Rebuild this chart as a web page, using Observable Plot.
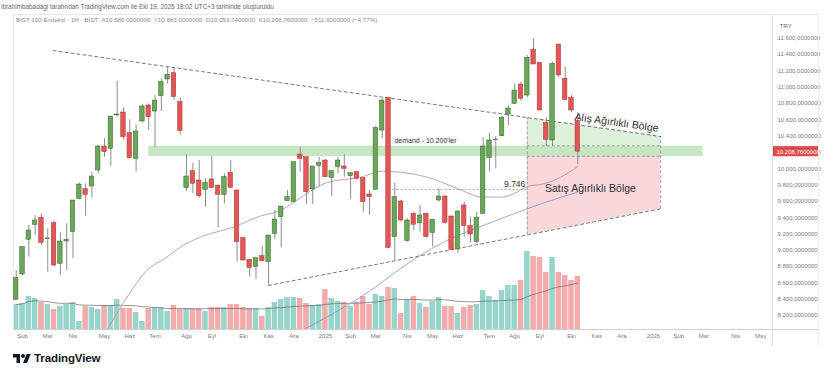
<!DOCTYPE html>
<html><head><meta charset="utf-8">
<script src="https://cdn.jsdelivr.net/npm/d3@7"></script>
<script src="https://cdn.jsdelivr.net/npm/@observablehq/plot@0.6"></script>
<style>
body{margin:0;background:#fff;font-family:"Liberation Sans",Arial,sans-serif;}
#wrap{position:relative;width:836px;height:368px;overflow:hidden;}
.abs{position:absolute;}
#h1{left:1px;top:3px;font-size:6.4px;color:#666;white-space:nowrap;}
#h2{left:16px;top:16px;font-size:6.2px;color:#8a8a8a;white-space:nowrap;z-index:5;}
#chart{left:0;top:14px;width:836px;height:332px;}
#chart svg{position:absolute;left:0;top:0;}
.ln{position:absolute;background:#dcdcdc;}
#logo{left:13px;top:352px;display:flex;align-items:center;gap:3px;}
#logo span{font-size:11.5px;font-weight:bold;color:#131722;letter-spacing:-0.1px;}
</style></head>
<body>
<div id="wrap">
  <div id="h1" class="abs">ibrahimbabadagi tarafından TradingView.com ile Eki 19, 2025 18:02 UTC+3 tarihinde oluşturuldu</div>
  <div id="chart" class="abs"></div>
  <div id="h2" class="abs">BIST 100 Endeksi · 1H · BIST &nbsp;A10.586,0200000 &nbsp;Y10.683,0000000 &nbsp;D10.053,7400000 &nbsp;K10.208,7600000 &nbsp;−511,6000000 (−4,77%)</div>
  <div class="ln" style="left:772px;top:14px;width:1px;height:332px"></div>
  <div class="ln" style="left:818px;top:14px;width:1px;height:332px;background:#ececec"></div>
  <div class="ln" style="left:772px;top:14px;width:46px;height:1px;background:#e4e4e4"></div>
  <div class="ln" style="left:13px;top:329px;width:805px;height:1px;background:#cfcfcf"></div>
  <div id="logo" class="abs">
    <svg width="18" height="9" viewBox="0 4 36 18"><path fill="#131722" d="M14 22H7V11H0V4h14v18zM28 22h-8l7.5-18h8L28 22z"/><circle fill="#131722" cx="20" cy="8" r="4"/></svg>
    <span>TradingView</span>
  </div>
</div>
<script>
// ---------- data (weekly candles, BIST 100) ----------
const firstWeek = "2024-01-29";
const opens = [8392,8703,9128,9312,9397,9135,9332,8834,9107,9222,
  9630,9749,9782,9978,10272,10244,10655,10689,10436,10121,
  10579,10775,10701,10889,11094,11171,10816,9761,9970,9855,
  9741,9868,9790,9680,9949,9733,9148,8883,8793,8928,
  8854,9201,9406,9602,9590,10174,10141,9745,10035,10100,
  9888,10019,10027,9908,9957,9884,9684,9741,10468,10865,
  9160,9598,9112,9447,9332,9447,9210,9610,9659,9414,
  9009,9549,9296,9099,9447,10133,10350,10399,10664,10795,
  11032,10897,11457,11298,10558,10346,11523,11102,10865,10586.02];
const highs = [8752,9040,9304,9426,9447,9263,9357,9214,9324,9610,
  9823,9814,9957,10284,10366,10640,11073,10746,10599,10538,
  10787,10795,10897,11102,11253,11237,10869,10174,10068,10100,
  9876,10150,9806,9937,10100,9741,9160,8883,8903,9046,
  9181,9487,9541,9733,10080,10256,10141,10027,10141,10110,
  9978,10141,10174,9945,9960,9884,9733,10521,10857,10869,
  9823,9610,9385,9467,9549,9455,9373,9753,9663,9414,
  9487,9590,9406,9467,10378,10436,10395,10640,10771,11040,
  11061,11388,11592,11298,10624,11306,11523,11245,10897,10683];
const lows = [8385,8690,8915,9181,9058,8731,8793,8690,8752,8895,
  9618,9418,9643,9937,10141,10027,10632,10354,10121,9957,
  10558,10468,10256,10701,11040,10836,10415,9720,9692,9639,
  9528,9753,9275,9569,9753,8854,8874,8670,8637,8866,
  8568,9128,9026,9602,9590,9957,9561,9561,9773,9896,
  9659,9937,9896,9618,9860,9467,9426,9741,10366,9017,
  8874,9344,9099,9242,9222,9152,9038,9590,9324,8997,
  8964,9160,9091,9079,9447,9957,9998,10395,10530,10787,
  10828,10869,11278,10714,10272,10272,11122,10836,10693,10053.74];
const closes = [8658,9038,9242,9365,9091,9145,8813,9107,9128,9610,
  9806,9680,9904,10272,10203,10640,10664,10387,10129,10456,
  10763,10632,10836,11061,11151,10877,10460,9904,9814,9663,
  9827,9761,9680,9896,9765,9099,8874,8784,8903,8866,
  9181,9377,9536,9651,10080,10121,9712,10027,10068,9896,
  9970,10100,9998,9945,9876,9590,9651,10497,10836,9030,
  9651,9365,9365,9312,9426,9160,9373,9659,9336,9005,
  9475,9296,9193,9397,10272,10346,10358,10624,10738,10959,
  10857,11359,11278,10714,10354,11286,11143,10844,10714,10208.76];
// relative volume
const volumes = [25,26,33,31,27,25,20,23,25,27,8,23,22,20,24,24,30,21,21,17,
  8,21,22,22,18,24,20,21,21,21,18,22,22,22,25,25,22,21,21,13,22,27,
  30,32,32,31,26,24,25,40,31,28,27,23,27,33,25,35,33,42,41,16,
  30,33,26,22,28,32,23,23,16,22,24,25,
  39,33,29,39,44,44,49,78,73,72,57,72,57,54,49,53];

const pinkMADates = ["2024-05-09","2024-05-31","2024-06-22","2024-07-14","2024-07-29","2024-08-20","2024-09-26","2024-10-26","2024-11-17","2024-12-02","2025-01-08","2025-02-14","2025-03-11","2025-03-30","2025-04-29","2025-06-05","2025-06-27","2025-07-19","2025-08-03","2025-08-18","2025-09-05","2025-09-24","2025-10-13"];
const pinkMAValues = [8028,8425,8752,8915,9038,9160,9283,9420,9487,9590,9830,9896,9970,9957,9896,9741,9655,9651,9692,9782,9814,9896,10027];
const blueMADates = ["2024-12-13","2025-02-14","2025-04-18","2025-05-21","2025-07-05","2025-08-18","2025-09-01","2025-10-13"];
const blueMAValues = [8028,8424,8915,9120,9324,9508,9565,9712];

const upperTrendDates = ["2024-03-10","2026-01-13"];
const upperTrendValues = [11449,10395];
const lowerTrendDates = ["2024-11-04","2026-01-13"];
const lowerTrendValues = [8568,9508];

const demandBand = {start:"2024-06-24", end:"2026-03-01", low:10150, high:10276};
const zoneDates = ["2025-08-18","2026-01-13"];
const buyZoneTop = [10626,10395];
const buyZoneBottom = 10281;
const sellZoneTop = 10153;
const sellZoneBottom = [9188,9508];
const supportLevel = {start:"2025-03-22", end:"2025-08-18", value:9746};

const annotations = [
  {date:"2025-04-27", value:10346, text:"demand - 10.200'ler", size:7, weight:"normal", rotate:0},
  {date:"2025-08-04", value:9812, text:"9.746", size:8.5, weight:"bold", rotate:0},
  {date:"2025-11-25", value:10565, text:"Alış Ağırlıklı Bölge", size:10.5, weight:"bold", rotate:8},
  {date:"2025-10-27", value:9757, text:"Satış Ağırlıklı Bölge", size:10.5, weight:"normal", rotate:0}
];

const priceTicks = [8200,8400,8600,8800,9000,9200,9400,9600,9800,10000,10200,10400,10600,10800,11000,11200,11400,11600];
const timeTickDates = ["2024-02-05","2024-03-04","2024-04-01","2024-05-06","2024-06-03","2024-07-01","2024-08-05","2024-09-02","2024-10-07","2024-11-04","2024-12-02","2025-01-06","2025-02-03","2025-03-03","2025-04-07","2025-05-05","2025-06-02","2025-07-07","2025-08-04","2025-09-01","2025-10-06","2025-11-03","2025-12-01","2026-01-05","2026-02-02","2026-03-02","2026-04-06","2026-05-04"];
const timeTickLabels = ["Şub","Mar","Nis","May","Haz","Tem","Ağu","Eyl","Eki","Kas","Ara","2025","Şub","Mar","Nis","May","Haz","Tem","Ağu","Eyl","Eki","Kas","Ara","2026","Şub","Mar","Nis","May"];
const lastPrice = 10208.76;
const priceTag = {start:"2026-05-18", end:"2026-07-08"};

// ---------- build ----------
const D = s => new Date(s + "T00:00:00Z");
const DAY = 864e5;
const start = D(firstWeek);
const candles = opens.map((o,i)=>({
  date: new Date(+start + i*7*DAY), open:o, high:highs[i], low:lows[i], close:closes[i], vol:volumes[i], up: closes[i] >= o
}));
const pts = (ds, vs) => ds.map((d,i)=>({date:D(d), value:vs[i]}));
const pinkMA = pts(pinkMADates, pinkMAValues);
const blueMA = pts(blueMADates, blueMAValues);
const upper = pts(upperTrendDates, upperTrendValues);
const lower = pts(lowerTrendDates, lowerTrendValues);
const buyZone = zoneDates.map((d,i)=>({date:D(d), y1:buyZoneBottom, y2:buyZoneTop[i]}));
const sellZone = zoneDates.map((d,i)=>({date:D(d), y1:sellZoneBottom[i], y2:sellZoneTop}));
const tickMap = new Map(timeTickDates.map((d,i)=>[+D(d), timeTickLabels[i]]));
const fmt = d3.formatLocale({decimal:",", thousands:".", grouping:[3], currency:["",""]}).format(",.7f");

const W = 836, H = 332;
const margins = {marginTop:0, marginBottom:17, marginLeft:13, marginRight:64};
const xDomain = [D("2024-01-26"), D("2026-05-17")];
const halfBody = 2.5*DAY, halfVol = 3.5*DAY;
const GREEN = "#6ca65a", GREEN_S = "#2f6a25", RED = "#e25656", RED_S = "#a83232";

const volPlot = Plot.plot({
  width:W, height:H, ...margins,
  style:"background:transparent",
  x:{type:"utc", domain:xDomain, axis:null},
  y:{domain:[0,315], axis:null},
  color:{type:"identity"},
  marks:[
    Plot.rectY(candles, {x1:d=>new Date(+d.date-halfVol), x2:d=>new Date(+d.date+halfVol), y:"vol",
      fill:d=>d.up?"#97d4ca":"#f3abac", insetLeft:0.4, insetRight:0.4}),
    Plot.lineY(candles, Plot.windowY({k:20, anchor:"end", reduce:"mean", strict:false},
      {x:"date", y:"vol", stroke:"#6b6b6b", strokeWidth:0.7}))
  ]
});

const mainPlot = Plot.plot({
  width:W, height:H, ...margins,
  style:"background:transparent;font-size:6px;color:#7a7a7a;font-family:'Liberation Sans',Arial,sans-serif;overflow:visible",
  x:{type:"utc", domain:xDomain, ticks:timeTickDates.map(D), tickFormat:d=>tickMap.get(+d) ?? "", tickSize:0, tickPadding:4, label:null},
  y:{domain:[8028,11891], axis:"right", ticks:priceTicks, tickFormat:fmt, tickSize:0, tickPadding:5, label:null},
  color:{type:"identity"},
  marks:[
    Plot.frame({stroke:"#e6e6e6"}),
    Plot.rect([demandBand], {x1:d=>D(d.start), x2:d=>D(d.end), y1:"low", y2:"high", fill:"#c7e7c4"}),
    Plot.areaY(buyZone, {x:"date", y1:"y1", y2:"y2", fill:"#d7efd3", fillOpacity:0.85}),
    Plot.areaY(sellZone, {x:"date", y1:"y1", y2:"y2", fill:"#f8d4d8", fillOpacity:0.9}),
    Plot.ruleX([{date:D(zoneDates[0]), y1:sellZoneBottom[0], y2:buyZoneTop[0]}, {date:D(zoneDates[1]), y1:sellZoneBottom[1], y2:buyZoneTop[1]}],
      {x:"date", y1:"y1", y2:"y2", stroke:"#8a8a8a", strokeWidth:0.8, strokeDasharray:"3,2"}),
    Plot.ruleY([buyZoneBottom, sellZoneTop], {x1:D(zoneDates[0]), x2:D(zoneDates[1]), stroke:"#8a8a8a", strokeWidth:0.8, strokeDasharray:"3,2"}),
    Plot.ruleY([supportLevel], {y:"value", x1:d=>D(d.start), x2:d=>D(d.end), stroke:"#8a8a8a", strokeWidth:0.8, strokeDasharray:"2,2"}),
    Plot.line(upper, {x:"date", y:"value", stroke:"#555", strokeWidth:0.8, strokeDasharray:"3,3"}),
    Plot.line(lower, {x:"date", y:"value", stroke:"#555", strokeWidth:0.8, strokeDasharray:"3,3"}),
    Plot.line(pinkMA, {x:"date", y:"value", stroke:"#c9939a", strokeWidth:0.9, curve:"monotone-x"}),
    Plot.line(blueMA, {x:"date", y:"value", stroke:"#8192d6", strokeWidth:0.8, curve:"monotone-x"}),
    Plot.ruleX(candles, {x:"date", y1:"low", y2:"high", stroke:"#8c8c8c", strokeWidth:1}),
    Plot.rect(candles, {x1:d=>new Date(+d.date-halfBody), x2:d=>new Date(+d.date+halfBody), y1:"open", y2:"close",
      fill:d=>d.up?GREEN:RED, stroke:d=>d.up?GREEN_S:RED_S, strokeWidth:0.5}),
    Plot.text(annotations, {x:d=>D(d.date), y:"value", text:"text", fontSize:d=>d.size, rotate:"rotate",
      fontWeight:d=>d.weight, fill:"#2f2f2f", fontFamily:"'Liberation Sans',Arial,sans-serif"}),
    Plot.rect([{y:lastPrice}], {x1:()=>D(priceTag.start), x2:()=>D(priceTag.end), y1:d=>d.y-62, y2:d=>d.y+62, fill:"#e04a4a"}),
    Plot.text([lastPrice], {y:d=>d, text:d=>fmt(d), frameAnchor:"right", dx:4, textAnchor:"start", fill:"white", fontSize:6}),
    Plot.text(["TRY"], {text:d=>d, frameAnchor:"top-right", dx:7, dy:9.5, textAnchor:"start", fill:"#666", fontSize:6})
  ]
});

const chart = document.getElementById("chart");
chart.append(volPlot, mainPlot);
</script>
</body></html>
